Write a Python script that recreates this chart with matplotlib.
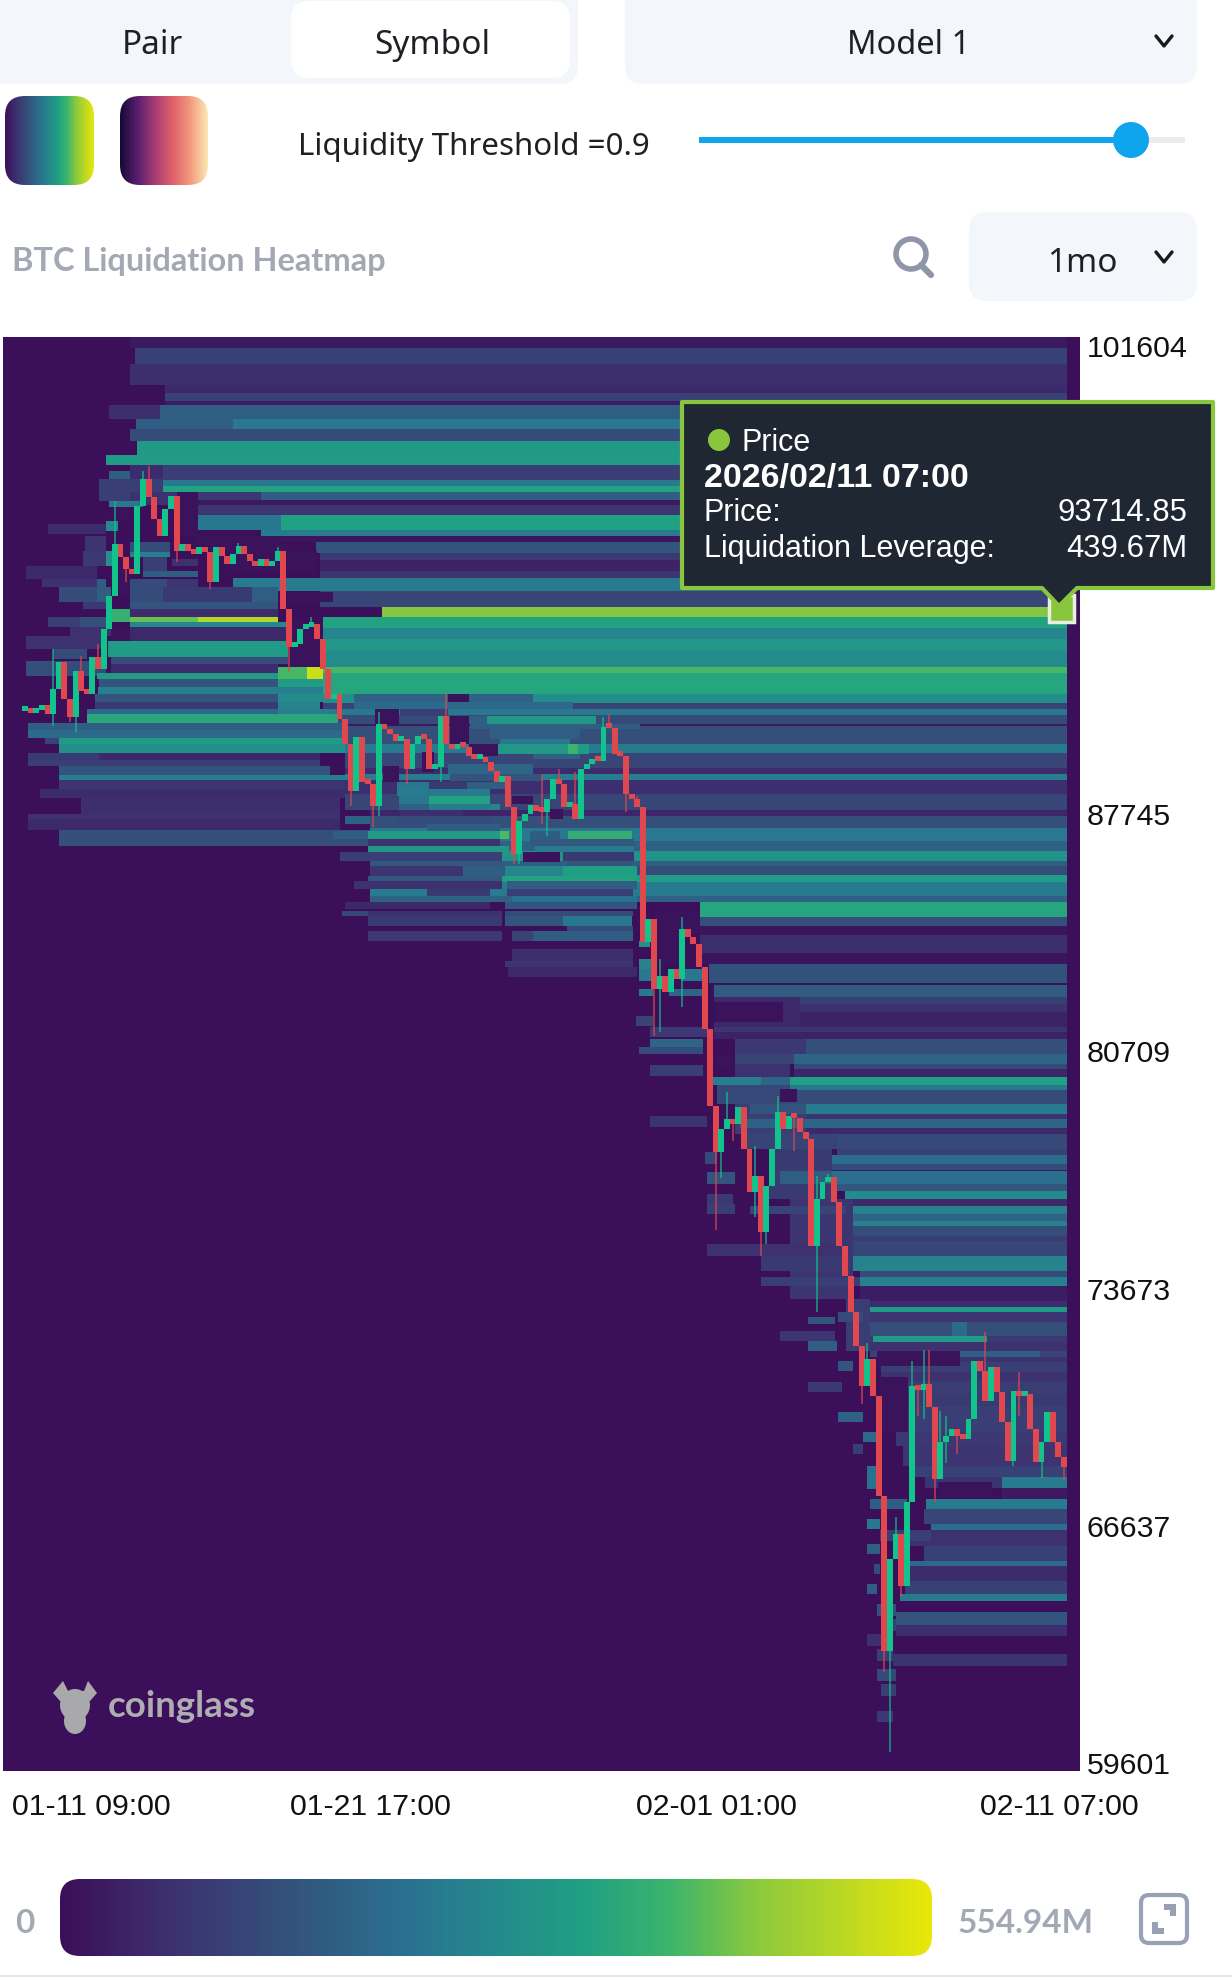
import numpy as np
import matplotlib
matplotlib.use('Agg')
import matplotlib.pyplot as plt
from matplotlib.colors import LinearSegmentedColormap, Normalize
from matplotlib.patches import FancyBboxPatch, Rectangle, Circle, Ellipse, Polygon

W, H = 1232, 1981
MAX_LIQ = 554.94
BG = '#3b0f59'
UP = '#10c48c'
DOWN = '#e0474e'

price_ticks = [101604, 87745, 80709, 73673, 66637, 59601]
time_labels = ['01-11 09:00', '01-21 17:00', '02-01 01:00', '02-11 07:00']
time_hours = [0, 248, 496, 742]
tip_rows = ['2026/02/11 07:00', '93714.85', '439.67M']

# heatmap rows that run out to the last candle (price edge, liquidity in M, first hour)
band_edges = [101837, 101511, 101037, 100415, 100178, 99941, 99822, 99407, 99111, 98756,
              98341, 98044, 97600, 97422, 97244, 97007, 96859, 96563, 96119, 95941,
              95763, 95437, 95230, 94904, 94696, 94311, 93837, 93541, 93215, 92889,
              92533, 92059, 91881, 91259, 90993, 90815, 90637, 90370, 90311, 89778,
              89511, 89067, 88889, 88711, 88296, 87822, 87644, 87289, 86904, 86607,
              86311, 86163, 85896, 85689, 85274, 85096, 84652, 84385, 84118, 83585,
              83259, 82696, 82637, 82281, 82074, 81837, 81393, 81244, 81037, 80593,
              80296, 80148, 79911, 79674, 79526, 79111, 78815, 78667, 78400, 78222,
              77778, 77600, 77333, 77156, 77126, 76741, 76533, 76296, 76089, 75852,
              75644, 75496, 75200, 75052, 74607, 74163, 73985, 73719, 73274, 73096,
              72948, 72652, 72237, 72059, 71793, 71615, 71467, 71170, 70904, 70519,
              70163, 69393, 68978, 68385, 68059, 67733, 67407, 67111, 66667, 66489,
              66015, 65570, 65422, 64978, 64593, 64385, 64059, 63674, 63348, 62815,
              62459]
band_values = [22, 105, 65, 50, 105, 30, 170, 235, 130, 315,
               320, 100, 235, 340, 170, 20, 80, 335, 240, 15,
               150, 85, 40, 80, 240, 115, 440, 340, 270, 310,
               280, 395, 345, 285, 110, 235, 130, 20, 140, 240,
               115, 60, 245, 65, 115, 45, 140, 235, 180, 300,
               170, 130, 320, 240, 180, 345, 140, 15, 65, 15,
               145, 10, 165, 105, 70, 40, 75, 40, 140, 190,
               125, 45, 335, 230, 130, 240, 75, 190, 50, 125,
               105, 210, 130, 15, 215, 155, 280, 50, 255, 185,
               255, 135, 95, 115, 260, 130, 255, 30, 60, 320,
               80, 135, 85, 70, 110, 70, 100, 70, 95, 90,
               100, 85, 80, 105, 240, 20, 240, 115, 210, 70,
               105, 200, 60, 105, 240, 0, 150, 65, 0, 75]
band_starts = [75, 78, 75, 100, 100, 100, 96, 148, 75, 80,
               58, 98, 98, 98, 168, 100, 118, 182, 168, 168,
               207, 210, 210, 210, 148, 210, 254, 212, 212, 212,
               212, 212, 212, 212, 212, 212, 212, 228, 228, 228,
               228, 228, 228, 228, 228, 246, 246, 246, 246, 246,
               246, 246, 246, 246, 246, 481, 481, 481, 481, 481,
               487, 487, 491, 548, 552, 491, 491, 491, 556, 548,
               548, 548, 545, 545, 545, 556, 556, 556, 556, 578,
               578, 574, 574, 574, 575, 575, 584, 584, 585, 585,
               587, 587, 587, 587, 587, 595, 595, 595, 595, 598,
               598, 602, 602, 602, 602, 610, 610, 610, 615, 620,
               620, 620, 625, 630, 696, 696, 642, 640, 645, 630,
               640, 628, 629, 627, 623, 623, 620, 620, 620, 618]

# shorter stretches: (price high, price low, first hour, last hour, liquidity in M)
upper_left = [
    (99407, 99111, 79, 148, 170), (99822, 99407, 60, 96, 65), (98044, 97600, 75, 98, 60),
    (97867, 97630, 60, 75, 170), (97630, 97244, 53, 75, 100), (97630, 97244, 75, 98, 100),
    (97244, 96978, 53, 75, 100), (97244, 96859, 75, 109, 70),
    (96978, 96800, 60, 84, 235), (97244, 97007, 109, 168, 85), (96563, 96119, 123, 182, 230),
    (96385, 96089, 58, 66, 280), (96296, 96000, 16, 58, 60), (95941, 95496, 43, 58, 80),
    (95496, 95052, 58, 66, 300), (95496, 95052, 41, 58, 85), (95052, 94667, 1, 51, 55),
    (94667, 94430, 51, 58, 170), (94667, 94430, 12, 51, 70), (94430, 93985, 24, 51, 130),
    (94430, 93985, 51, 61, 170), (93985, 93778, 41, 58, 85), (93778, 93393, 58, 75, 375),
    (93541, 93244, 16, 39, 100), (93541, 93244, 39, 58, 140), (93244, 92978, 32, 61, 70),
    (92978, 92593, 1, 58, 70), (92593, 92296, 20, 44, 130), (92237, 91793, 1, 16, 140),
    (92237, 91793, 16, 58, 130), (95763, 95467, 75, 103, 130), (95467, 95319, 75, 103, 250),
    (95319, 94904, 84, 101, 100), (94904, 94726, 84, 123, 170), (95259, 95052, 105, 123, 70),
]
path_left = [
    (94667, 94430, 75, 101, 130), (94667, 94430, 101, 123, 80), (94430, 93985, 75, 98, 130),
    (94430, 93985, 98, 162, 90), (94430, 93985, 162, 180, 170), (93985, 93778, 75, 180, 150),
    (93778, 93541, 75, 180, 60), (93541, 93393, 75, 123, 420), (93541, 93393, 123, 180, 490),
    (93393, 93244, 75, 189, 270), (93244, 92830, 75, 187, 50), (92830, 92356, 59, 187, 320),
    (92356, 92148, 61, 187, 130), (92148, 91881, 61, 180, 60), (91881, 91704, 51, 180, 320),
    (92059, 91704, 180, 201, 395), (92059, 91704, 201, 212, 520), (91704, 91467, 53, 180, 150),
    (91704, 91467, 180, 212, 320), (91467, 91259, 52, 212, 250), (91259, 91022, 50, 180, 150),
    (91259, 91022, 180, 212, 280), (91022, 90815, 50, 180, 90), (91022, 90815, 180, 210, 260),
    (90815, 90667, 44, 180, 200), (90815, 90667, 180, 217, 250), (90667, 90400, 44, 223, 350),
    (90400, 90193, 2, 228, 170), (90193, 89956, 2, 228, 200), (89956, 89778, 24, 228, 320),
    (89956, 89778, 14, 24, 115), (89778, 89511, 24, 228, 290), (89511, 89304, 53, 210, 50),
    (89511, 89304, 2, 53, 90), (89304, 89126, 2, 210, 100), (89126, 88859, 24, 217, 150),
    (88859, 88711, 24, 228, 250), (88711, 88444, 24, 228, 80), (88444, 88178, 11, 228, 60),
    (88178, 87704, 40, 224, 65), (87704, 87556, 2, 224, 70), (87556, 87230, 2, 224, 55),
    (87230, 86756, 24, 246, 140),
]
path_middle = [
    (91259, 91022, 234, 362, 180), (91022, 90815, 234, 390, 200), (90815, 90607, 267, 301, 100),
    (90607, 90370, 315, 329, 170), (90607, 90370, 329, 407, 310), (90370, 90222, 317, 438, 170),
    (90222, 89926, 331, 395, 170), (89926, 89778, 338, 388, 230), (89778, 89481, 335, 387, 310),
    (89778, 89481, 387, 394, 385), (89778, 89481, 394, 402, 320), (89481, 89333, 362, 395, 180),
    (89185, 88889, 301, 362, 190), (88889, 88681, 303, 368, 150), (88652, 88444, 265, 288, 230),
    (88652, 88444, 288, 315, 90), (88652, 88444, 315, 343, 170), (88444, 88237, 265, 331, 240),
    (88237, 88000, 266, 288, 230), (88237, 88000, 288, 331, 340), (88000, 87822, 266, 288, 180),
    (88000, 87822, 288, 331, 240), (88000, 87822, 331, 338, 260), (87822, 87644, 267, 312, 65),
    (87644, 87407, 228, 246, 180), (87644, 87407, 265, 331, 130), (87407, 87200, 286, 338, 170),
    (87200, 86963, 244, 338, 320), (87200, 86963, 338, 345, 400), (87200, 86963, 219, 244, 170),
    (87200, 86963, 387, 432, 370), (87200, 86963, 360, 381, 170), (86963, 86756, 244, 338, 70),
    (86963, 86756, 360, 434, 160), (86756, 86578, 244, 345, 310), (86756, 86578, 363, 434, 240),
    (86578, 86311, 224, 340, 100), (86578, 86311, 383, 434, 90), (86311, 86163, 246, 340, 160),
    (86311, 86163, 386, 432, 150), (86163, 85867, 246, 312, 80), (86163, 85867, 312, 342, 170),
    (86163, 85867, 342, 383, 270), (86163, 85867, 383, 436, 330), (85867, 85719, 244, 340, 160),
    (85867, 85719, 342, 436, 340), (85719, 85481, 234, 340, 70), (85719, 85481, 343, 436, 170),
    (85481, 85274, 286, 331, 90), (85481, 85274, 343, 433, 100), (85274, 85096, 347, 436, 220),
    (85096, 84885, 228, 331, 50), (85096, 84885, 342, 436, 150), (84826, 84681, 226, 244, 120),
    (84826, 84681, 244, 340, 70), (84826, 84681, 342, 433, 130), (84681, 84385, 244, 340, 90),
    (84681, 84385, 342, 383, 150), (84681, 84385, 383, 432, 230), (84385, 84237, 386, 433, 130),
    (84237, 83941, 244, 340, 85), (84237, 83941, 347, 362, 110), (84237, 83941, 362, 433, 170),
    (83704, 83348, 347, 433, 65), (83348, 83170, 342, 433, 80), (83170, 82874, 344, 436, 50),
]
path_right_fill = [
    (82281, 81393, 491, 552, 50), (81037, 80593, 506, 556, 85), (80593, 80296, 506, 548, 110),
    (80296, 79911, 506, 545, 70), (79674, 79111, 493, 545, 120), (79111, 78222, 506, 556, 100),
    (78222, 76296, 530, 575, 90), (76296, 73333, 545, 590, 80), (73333, 71793, 585, 602, 95),
]
path_lower = [
    (83941, 83763, 437, 445, 290), (83407, 83111, 437, 447, 260), (83111, 82756, 437, 447, 230),
    (83111, 82756, 467, 482, 230), (82518, 82311, 437, 447, 240), (82518, 82311, 459, 482, 190),
    (81719, 81422, 435, 447, 110), (81393, 81096, 445, 486, 85), (81037, 80800, 445, 483, 190),
    (80800, 80593, 437, 483, 130), (80267, 79941, 445, 483, 100), (79911, 79674, 486, 524, 250),
    (79911, 79674, 524, 545, 190), (78756, 78430, 445, 486, 75), (77689, 77333, 484, 493, 120),
    (77096, 76741, 486, 506, 150), (76444, 76148, 486, 504, 90), (76148, 75852, 486, 506, 100),
    (74963, 74607, 486, 585, 70), (79111, 78815, 516, 556, 150), (78667, 78400, 509, 556, 180),
    (78222, 77778, 513, 578, 110), (77126, 76741, 538, 575, 170), (76089, 75852, 516, 585, 110),
    (74607, 74163, 524, 587, 90), (73985, 73719, 524, 595, 100), (72948, 72652, 579, 597, 130),
    (72800, 72593, 558, 577, 150), (72385, 72089, 538, 577, 80), (72089, 71793, 558, 578, 170),
    (71496, 71200, 579, 590, 150), (70874, 70578, 558, 582, 85), (69985, 69689, 579, 597, 180),
    (69393, 69096, 597, 607, 200), (69037, 68741, 590, 597, 100), (68385, 67704, 600, 609, 220),
    (67407, 67111, 602, 628, 170), (66815, 66519, 600, 609, 230), (66489, 66170, 609, 645, 100),
    (66074, 65778, 600, 609, 170), (65481, 65185, 605, 609, 130), (64889, 64593, 600, 607, 170),
    (64296, 63941, 607, 620, 140), (63852, 63496, 610, 620, 105), (63407, 63052, 600, 618, 65),
    (62963, 62607, 607, 618, 100), (62370, 62015, 607, 620, 120), (61926, 61570, 610, 620, 100),
    (61126, 60800, 607, 618, 85), (72237, 72059, 604, 685, 320), (71793, 71615, 666, 723, 170),
    (72652, 72237, 660, 671, 200), (68059, 67733, 641, 696, 75),
]
# areas the price already swept clean
swept = [
    (97244, 95941, 108, 123), (95941, 95496, 123, 180), (95704, 94815, 146, 187),
    (95496, 94815, 187, 208), (94281, 93985, 187, 219), (93393, 92059, 187, 210),
    (96800, 96444, 61, 75), (94963, 94222, 68, 75), (93185, 92830, 61, 75),
    (90815, 90311, 249, 266), (91259, 91022, 301, 316), (90607, 89778, 303, 316),
    (89778, 89422, 316, 337), (89126, 88652, 255, 266), (89541, 88948, 283, 291),
    (88237, 88000, 347, 362), (87852, 87556, 374, 383), (86578, 86281, 355, 381),
    (84826, 84207, 449, 481), (84207, 83200, 452, 469), (82133, 81541, 491, 540),
    (80504, 80148, 493, 504), (79556, 79170, 538, 550), (71793, 71348, 607, 666),
    (71022, 69393, 609, 629), (67911, 67467, 650, 689),
]

# 4h candles, each opens at the previous close
first_open = 90755
closes = [90755, 90696, 90785, 90933, 90667, 91407, 92207, 91111, 90578, 91941,
          91348, 91259, 92355, 92000, 93185, 94163, 95704, 95319, 94963, 94815,
          96830, 97630, 97096, 96444, 95941, 96741, 97126, 95496, 95704, 95496,
          95407, 95615, 95467, 94578, 95615, 95348, 95111, 95407, 95644, 95407,
          95200, 95052, 95259, 95052, 95200, 95496, 93778, 92652, 92741, 93185,
          93244, 93333, 92889, 92000, 91111, 91259, 90519, 89778, 88385, 89985,
          88652, 88593, 87941, 90370, 90222, 90074, 89867, 89926, 89037, 89778,
          90015, 89926, 89037, 89096, 90607, 89778, 89630, 89778, 89689, 89422,
          89333, 89393, 89244, 88978, 88652, 88830, 87911, 86518, 87496, 87704,
          87970, 87793, 87763, 88148, 88741, 88593, 87911, 88000, 87556, 89037,
          89185, 89333, 89274, 90281, 90252, 89481, 89422, 88296, 88148, 87911,
          83911, 84593, 82518, 82904, 82430, 83111, 82815, 84296, 84059, 83852,
          83170, 81333, 79052, 77689, 78370, 78667, 78518, 79022, 77778, 76504,
          76978, 75319, 76681, 77778, 78874, 78370, 78756, 78696, 78281, 78074,
          74904, 76296, 76800, 76948, 76207, 74904, 74015, 72948, 71941, 70756,
          71556, 70459, 67496, 62904, 65630, 66370, 64830, 67319, 70756, 70637,
          70815, 70133, 68000, 69096, 69274, 69481, 69274, 69185, 69778, 71496,
          71200, 70311, 71319, 70578, 69689, 68533, 70607, 70459, 70519, 69481,
          68504, 69096, 69985, 69096, 68652, 68356]
wick_index = [5, 5, 8, 9, 10, 13, 16, 18, 21, 22, 27, 33, 34, 38, 45, 47, 51, 58, 63, 62, 63,
              68, 74, 75, 87, 88, 92, 92, 93, 95, 98, 103, 104, 107, 109, 112, 113, 113, 117, 117,
              123, 124, 125, 126, 130, 130, 131, 132, 134, 137, 141, 141, 143, 149, 150, 151, 153, 154, 155,
              156, 158, 159, 160, 160, 161, 162, 163, 164, 164, 166, 171, 176, 177, 177, 181, 185]
wick_price = [90311, 92593, 90430, 90133, 92385, 92741, 96978, 94578, 97867, 98015, 95170, 94370, 94726,
              95733, 95615, 91911, 93541, 87941, 90726, 87318, 87644,
              88593, 88652, 91259, 86222, 86222, 88889, 87407, 87052, 89037, 88948, 90578, 90667, 87763,
              88237, 81126, 81244, 83393, 81985, 84652,
              75363, 76904, 79467, 78000, 75763, 77867, 74607, 74963, 79348, 77718, 72948, 76978, 77037,
              70222, 72044, 70904, 62281, 59911, 66874,
              64504, 71496, 69867, 71822, 69778, 71822, 67319, 70015, 69867, 68474, 68741, 72370, 68385,
              71170, 69867, 68030, 67970]

liq_cmap = LinearSegmentedColormap.from_list('liq', [
    (0.0, '#3b0f59'), (0.12, '#3d3070'), (0.25, '#34507a'), (0.4, '#2a7290'), (0.5, '#248a8c'),
    (0.6, '#20a084'), (0.7, '#3cb46c'), (0.8, '#8bc93e'), (1.0, '#e9e70a')])
heat_cmap = LinearSegmentedColormap.from_list('heat', ['#150a35', '#5a1f6e', '#a83d72', '#e0606a', '#f39a7c', '#fde8b5'])
norm = Normalize(0, MAX_LIQ)

fig = plt.figure(figsize=(W / 100, H / 100), dpi=100, facecolor='white')
left, right, top, bottom = 3, 1080, 338, 1772
ax = fig.add_axes([left / W, 1 - bottom / H, (right - left) / W, (bottom - top) / H], facecolor=BG)
ax.set_xlim(-15.7, 751.4)
ax.set_ylim(59348, 101837)

edges = np.array(band_edges, dtype=float)
starts = np.array(band_starts, dtype=float)
ax.barh((edges[:-1] + edges[1:]) / 2, 742 - starts, left=starts, height=edges[:-1] - edges[1:],
        color=liq_cmap(norm(band_values)), linewidth=0, antialiased=False, zorder=1)

for group in [upper_left, path_left, path_middle, path_right_fill, path_lower]:
    rows = np.array(group, dtype=float)
    ax.barh((rows[:, 0] + rows[:, 1]) / 2, rows[:, 3] - rows[:, 2], left=rows[:, 2], height=rows[:, 0] - rows[:, 1],
            color=liq_cmap(norm(rows[:, 4])), linewidth=0, antialiased=False, zorder=2)
rows = np.array(swept, dtype=float)
ax.barh((rows[:, 0] + rows[:, 1]) / 2, rows[:, 3] - rows[:, 2], left=rows[:, 2], height=rows[:, 0] - rows[:, 1],
        color=liq_cmap(norm(10)), linewidth=0, antialiased=False, zorder=3)

# candles
c = np.array(closes, dtype=float)
o = np.r_[first_open, c[:-1]]
hours = np.arange(len(c)) * 4.0
colors = [UP if a >= b else DOWN for a, b in zip(c, o)]
wick_i = np.array(wick_index)
wick_end = np.where(np.array(wick_price) > c[wick_i], np.maximum(o, c)[wick_i], np.minimum(o, c)[wick_i])
ax.vlines(hours[wick_i], wick_end, wick_price, colors=[colors[j] for j in wick_i], linewidth=1.1, alpha=0.8, zorder=4)
ax.bar(hours, np.maximum(np.abs(c - o), 150), bottom=np.minimum(o, c), width=4.2, color=colors, linewidth=0, zorder=5)

for s in ax.spines.values():
    s.set_visible(False)
ax.yaxis.tick_right()
ax.set_yticks(price_ticks)
ax.set_yticklabels([str(p) for p in price_ticks], family='Liberation Sans', fontsize=21.8, color='#111111')
ax.tick_params(axis='y', length=0, pad=5)
ax.set_xticks([])
for lab, h, dx in zip(time_labels, time_hours, [66, -3, -5, -7]):
    ax.annotate(lab, xy=(h, 0), xycoords=('data', 'axes fraction'), xytext=(dx, -35), textcoords='offset pixels',
                ha='center', va='center', family='Liberation Sans', fontsize=21.8, color='#111111')

# everything around the chart is page furniture, drawn in pixels
ui = fig.add_axes([0, 0, 1, 1], facecolor='none')
ui.set_xlim(0, W)
ui.set_ylim(H, 0)
ui.axis('off')


def panel(x0, y0, x1, y1, color='#f3f6fa', r=18):
    p = FancyBboxPatch((x0 + r, y0 + r), x1 - x0 - 2 * r, y1 - y0 - 2 * r, boxstyle='round,pad=%d,rounding_size=%d' % (r, r),
                       facecolor=color, edgecolor='none')
    ui.add_patch(p)
    return p


def gradient(x0, y0, x1, y1, cmap, r=20):
    p = panel(x0, y0, x1, y1, 'none', r)
    im = ui.imshow(np.linspace(0, 1, 300)[None, :], extent=(x0, x1, y1, y0), cmap=cmap, aspect='auto', zorder=2)
    im.set_clip_path(p)


def chevron(x, y, color='#1a1a1a'):
    ui.plot([x - 8, x, x + 8], [y - 5, y + 5, y - 5], color=color, lw=2.4, solid_capstyle='round')


def label(x, y, s, size=24, color='#1e2024', ha='center', family='Noto Sans', **kw):
    ui.text(x, y, s, fontsize=size, color=color, ha=ha, va='center', family=family, **kw)


panel(-20, -30, 578, 85)
panel(291, 2, 570, 79, 'white')
panel(625, -30, 1197, 85)
label(152, 46, 'Pair')
label(432, 46, 'Symbol')
label(909, 46, 'Model 1', size=23.5)
chevron(1164, 42)

gradient(5, 97, 94, 186, liq_cmap)
gradient(120, 97, 208, 186, heat_cmap)
label(298, 147, 'Liquidity Threshold =0.9', size=22.5, ha='left')
ui.add_patch(Rectangle((1131, 138), 54, 6, facecolor='#ececec', edgecolor='none'))
ui.add_patch(Rectangle((699, 138), 432, 6, facecolor='#0ea5ee', edgecolor='none'))
ui.add_patch(Circle((1131, 141), 18, facecolor='#0ea5ee', edgecolor='none'))

label(12, 262, 'BTC Liquidation Heatmap', size=23.4, color='#a3a8b5', ha='left', family='Lato', fontweight='bold')
ui.add_patch(Circle((911, 255), 15, facecolor='none', edgecolor='#8e96a8', lw=4))
ui.plot([921, 931], [266, 276], color='#8e96a8', lw=4.5, solid_capstyle='round')
panel(969, 213, 1197, 302)
label(1082, 263, '1mo')
chevron(1164, 258)

# watermark
ui.add_patch(Ellipse((75, 1706), 30, 32, facecolor='#a9a9ab', edgecolor='none'))
ui.add_patch(Ellipse((75, 1722), 22, 26, facecolor='#a9a9ab', edgecolor='none'))
ui.add_patch(Polygon([(53, 1694), (63, 1682), (68, 1692), (84, 1692), (88, 1682), (97, 1694), (90, 1702), (60, 1702)],
                     facecolor='#a9a9ab', edgecolor='none'))
label(108, 1707, 'coinglass', size=26.5, color='#aeaeb2', ha='left', family='Lato', fontweight='bold')

# tooltip
green = '#8ac53e'
ui.add_patch(Polygon([(682, 403), (1213, 403), (1213, 589), (1077, 589), (1059, 607), (1042, 589), (682, 589)],
                     facecolor='#1f2733', edgecolor=green, lw=3, joinstyle='round', zorder=6))
ui.add_patch(Rectangle((1049, 596), 25, 27, facecolor=green, edgecolor='#e8efe0', lw=2.5, zorder=5))
ui.add_patch(Circle((719, 441), 11, facecolor=green, edgecolor='none', zorder=7))
tip = dict(family='Liberation Sans', color='white', zorder=7)
label(742, 443, 'Price', size=22, ha='left', **tip)
label(704, 478, tip_rows[0], size=24.5, ha='left', fontweight='bold', **tip)
label(704, 513, 'Price:', size=22, ha='left', **tip)
label(704, 549, 'Liquidation Leverage:', size=22, ha='left', **tip)
label(1187, 513, tip_rows[1], size=22.4, ha='right', **tip)
label(1187, 549, tip_rows[2], size=22.4, ha='right', **tip)

# legend bar
gradient(60, 1880, 932, 1957, liq_cmap, r=20)
label(25, 1924, '0', size=24, color='#a3a8b5', family='Lato', fontweight='bold')
label(958, 1924, '554.94M', size=24, color='#a3a8b5', ha='left', family='Lato', fontweight='bold')
panel(1141, 1896, 1187, 1944, 'none', 8).set(edgecolor='#98a1b3', lw=3)
ui.add_patch(Polygon([(1152, 1923), (1152, 1935), (1164, 1935), (1164, 1929), (1158, 1929), (1158, 1923)], facecolor='#98a1b3', edgecolor='none'))
ui.add_patch(Polygon([(1176, 1917), (1176, 1905), (1164, 1905), (1164, 1911), (1170, 1911), (1170, 1917)], facecolor='#98a1b3', edgecolor='none'))
ui.add_patch(Rectangle((0, 1976), W, 2, facecolor='#e6e6e6', edgecolor='none'))

fig.savefig('out.png', dpi=100)
